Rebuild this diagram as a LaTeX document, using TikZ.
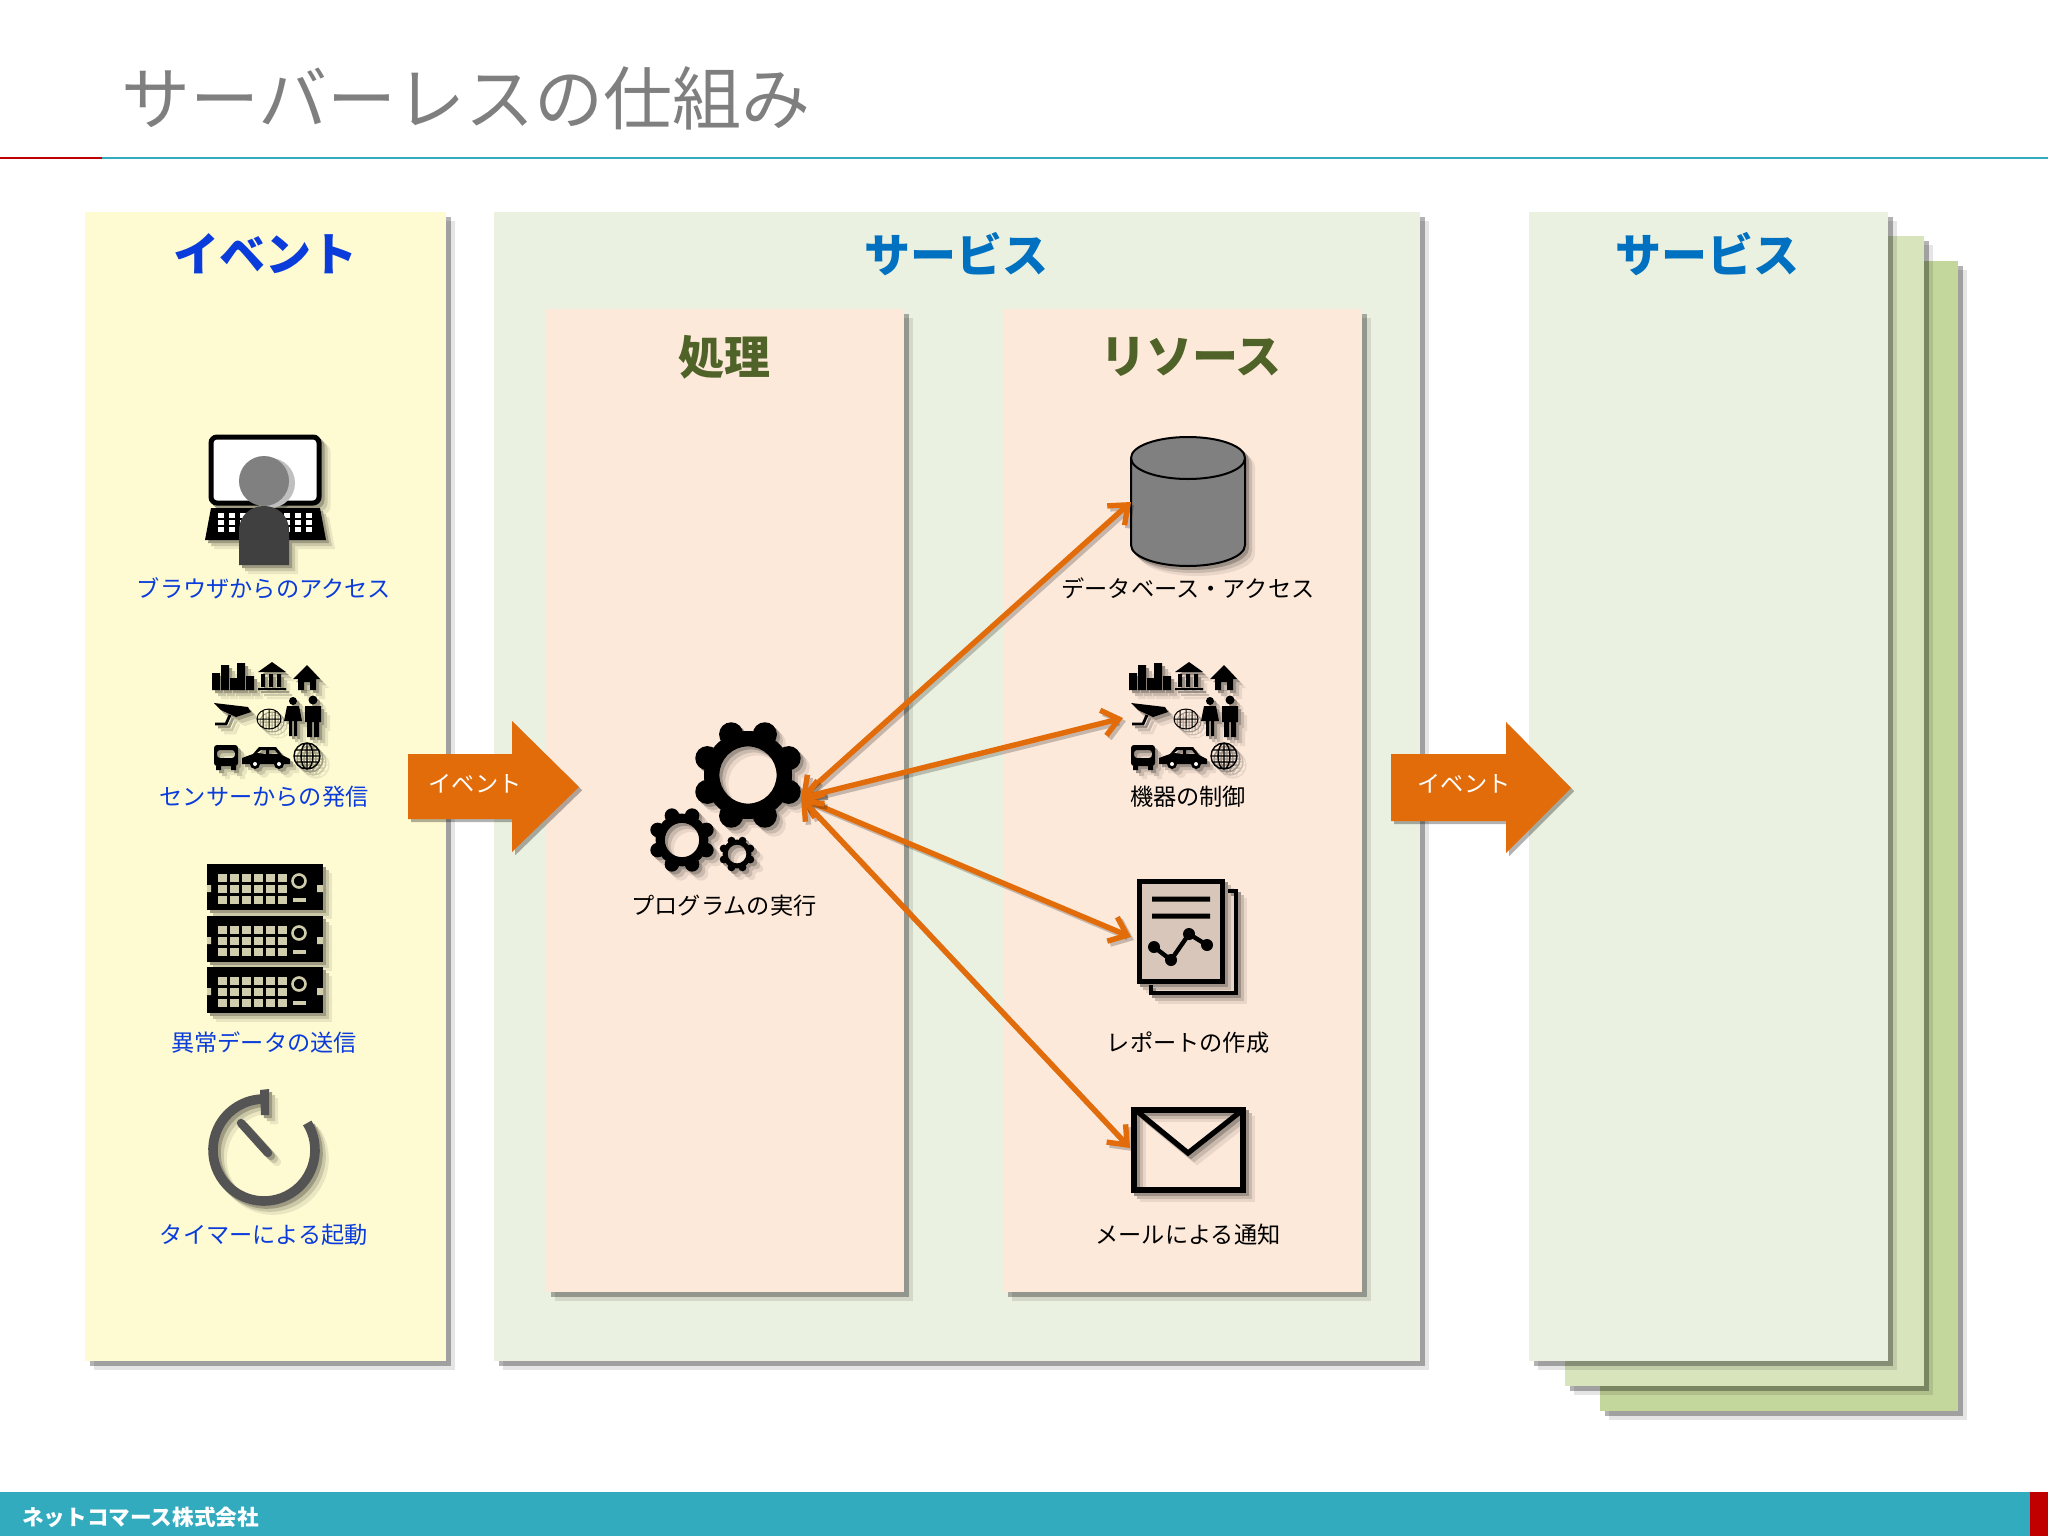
\documentclass[tikz,border=0pt]{standalone}
\usepackage{fontspec}
\setmainfont{Noto Sans CJK JP}
\usetikzlibrary{arrows.meta,shadows}

\definecolor{rulered}{HTML}{C00000}
\definecolor{ruleteal}{HTML}{33ABBF}
\definecolor{titlegrey}{HTML}{7F7F7F}
\definecolor{eventbg}{HTML}{FEFAD2}
\definecolor{svcbg}{HTML}{EBF1E0}
\definecolor{svcbgb}{HTML}{D7E4BC}
\definecolor{svcbgc}{HTML}{C3D69B}
\definecolor{peachbg}{HTML}{FDE9DA}
\definecolor{eventblue}{HTML}{0A3CDC}
\definecolor{svcblue}{HTML}{0070C0}
\definecolor{olivehead}{HTML}{4F6228}
\definecolor{linko}{HTML}{E36C0A}

% icon inks, set again for each shadow layer
\colorlet{inkline}{black}
\colorlet{inkwhite}{white}
\colorlet{inktan}{black}
\colorlet{inkmid}{black}
\colorlet{inkdark}{black}
\colorlet{inkclock}{black}

\newcommand{\allinks}[1]{\colorlet{inkline}{#1}\colorlet{inkwhite}{#1}\colorlet{inktan}{#1}\colorlet{inkmid}{#1}\colorlet{inkdark}{#1}\colorlet{inkclock}{#1}}

% #1 pic, #2 place, #3 backdrop colour, #4 colour of the pale parts
\newcommand{\showicon}[4]{%
  \begin{scope}[shift={(#2)}]
    \allinks{#3!92!black}\pic at (9,9) {#1};
    \allinks{#3!80!black}\pic at (6,6) {#1};
    \allinks{#3!62!black}\pic at (3,3) {#1};
    \colorlet{inkline}{black}\colorlet{inkwhite}{white}\colorlet{inktan}{#4}%
    \colorlet{inkmid}{black!50}\colorlet{inkdark}{black!75}\colorlet{inkclock}{black!67}%
    \pic at (0,0) {#1};
  \end{scope}}

\tikzset{
  panel/.style={fill=#1,general shadow={fill=black,opacity=.1,shadow xshift=4.5pt,shadow yshift=-4.5pt},
    general shadow={fill=black,opacity=.3,shadow xshift=2.5pt,shadow yshift=-2.5pt}},
  head/.style={inner sep=0pt,font=\fontsize{23}{27}\selectfont\bfseries},
  label/.style={inner sep=0pt,font=\fontsize{11.6}{14}\selectfont},
  link/.style={line width=2.7pt,linko,{Straight Barb[length=8pt,width=13pt,line width=2.7pt]}-{Straight Barb[length=8pt,width=13pt,line width=2.7pt]}},
  linkshade/.style={link,black,opacity=.22,transform canvas={xshift=1.5pt,yshift=-1.5pt}},
  bigarrow/.style={fill=linko,general shadow={fill=black,opacity=.3,shadow xshift=1.6pt,shadow yshift=-1.6pt}},
  pics/laptop/.style={code={
    \draw[inkline,fill=inkwhite,line width=2.5pt,rounded corners=3pt] (-53,-63) rectangle (55,3);
    \fill[inkline] (-53,8) -- (56,8) -- (62,40) -- (-59,40) -- cycle;
    \foreach \ky in {13,20,27}{\foreach \kx in {0,...,8}{
      \fill[inkwhite] ({-46+11*\kx},\ky) rectangle ++(6,4.5);}}
    \fill[inkwhite!75!black] (6,-17) circle (25);
    \fill[inkmid] (0,-19) circle (25);
    \fill[inkdark] (-25,65) -- (-25,31) .. controls (-25,14) and (-12,6) .. (0,6)
      .. controls (12,6) and (25,14) .. (25,31) -- (25,65) -- cycle;
  }},
  pics/devices/.style={code={
    % buildings, bank, house
    \fill[inkline] (-54,-26) rectangle (-46,-43) (-45,-26) rectangle (-37,-51) (-36,-26) rectangle (-28,-38)
      (-29,-26) rectangle (-21,-53) (-20,-26) rectangle (-12,-40);
    \fill[inkline] (-8,-44) -- (6,-54) -- (20,-44) -- cycle (-8,-28) rectangle (20,-26)
      (-5,-42) rectangle (-1,-29) (3,-42) rectangle (7,-29) (11,-42) rectangle (15,-29);
    \fill[inkline] (27,-37) -- (41,-51) -- (54,-37) -- cycle;
    \fill[inkline,even odd rule] (32,-40) rectangle (50,-26) (38,-34) rectangle (44,-26);
    % camera, mesh, people
    \fill[inkline] (-52,-13) -- (-18,-9) -- (-15,-4) -- (-30,1) -- (-45,-6) -- cycle;
    \draw[inkline,line width=1.4pt] (-36,-1) -- (-40,8) -- (-51,8);
    \draw[inkline,line width=.5pt] (3,3) ellipse [x radius=12,y radius=10]
      (-3,-6) -- (-3,12) (3,-7) -- (3,13) (9,-6) -- (9,12) (-9,3) -- (15,3);
    \fill[inkline] (27,-15) circle (4) (21,-10) -- (33,-10) -- (36,5) -- (18,5) -- cycle
      (23,5) rectangle (26,20) (28,5) rectangle (31,20);
    \fill[inkline] (47,-16) circle (4.5) (39,-10) rectangle (55,6) (41,6) rectangle (46,21) (48,6) rectangle (53,21);
    % bus, car, globe
    \fill[inkline,even odd rule,rounded corners=1.5pt] (-52,29) rectangle (-28,50) (-49,34) rectangle (-31,42);
    \fill[inkline] (-50,50) rectangle (-45,54) (-35,50) rectangle (-30,54);
    \fill[inkline,even odd rule] (-24,48) -- (-24,42) -- (-13,38) -- (-7,31) -- (10,31) -- (16,39) -- (24,43) -- (24,48) -- cycle
      (-9,37) -- (-5,34) -- (0,34) -- (0,38) -- cycle (3,34) -- (9,34) -- (12,38) -- (3,38) -- cycle;
    \fill[inkline] (-11,48) circle (5) (13,48) circle (5);
    \fill[inkwhite] (-11,48) circle (2) (13,48) circle (2);
    \draw[inkline,line width=.7pt] (41,40) circle (13) (41,40) ellipse [x radius=6,y radius=13]
      (28,40) -- (54,40) (30,34) -- (52,34) (30,46) -- (52,46) (41,27) -- (41,53);
  }},
  pics/rackunit/.style={code={
    \fill[inkline] (0,0) rectangle (116,46);
    \foreach \ry in {10,21,32}{\foreach \rx in {0,...,5}{
      \fill[inktan] ({11+12*\rx},\ry) rectangle ++(8.5,7.5);}}
    \draw[inktan,line width=1.3pt] (92,17) circle (6.5);
    \fill[inktan] (86,34) rectangle (99,38);
    \fill[inktan] (0,21) rectangle (4,28) (110,21) rectangle (116,28);
  }},
  pics/rack/.style={code={
    \pic at (-58,-74) {rackunit};
    \pic at (-58,-22) {rackunit};
    \pic at (-58,29) {rackunit};
  }},
  pics/timer/.style={code={
    \draw[inkclock,line width=4.8pt] (-32:51) arc[start angle=-32,end angle=270,radius=51];
    \fill[inkclock] (-4,-60) -- (5,-61) -- (5,-35) -- (-3,-35) -- cycle;
    \draw[inkclock,line width=4.2pt,line cap=round] (-23,-27) -- (4,3);
  }},
  pics/cog/.style={code={
    \foreach \ca in {22.5,67.5,...,360}{\fill[inkline] (\ca:0.8*#1) circle (0.22*#1);}
    \fill[inkline,even odd rule] (0,0) circle (0.8*#1) (0,0) circle (0.52*#1);
  }},
  pics/gears/.style={code={
    \pic at (38,-35) {cog=55};
    \pic at (-28,30) {cog=33};
    \pic at (27,44) {cog=18};
  }},
  pics/cylinder/.style={code={
    \filldraw[draw=inkline,fill=inkmid,line width=1pt] (-57,-52) -- (-57,35)
      .. controls (-57,47) and (-31,56) .. (0,56) .. controls (31,56) and (57,47) .. (57,35) -- (57,-52)
      .. controls (57,-64) and (31,-73) .. (0,-73) .. controls (-31,-73) and (-57,-64) .. (-57,-52) -- cycle;
    \draw[inkline,line width=1pt] (-57,-52) .. controls (-57,-40) and (-31,-31) .. (0,-31) .. controls (31,-31) and (57,-40) .. (57,-52);
  }},
  pics/report/.style={code={
    \draw[inkline,line width=2pt] (42,-44) -- (50,-44) -- (50,58) -- (-35,58) -- (-35,50);
    \draw[inkline,fill=inktan,line width=2.5pt] (-47,-54) rectangle (36,46);
    \fill[inkline] (-34,-38.5) rectangle (24,-33.5) (-34,-21.5) rectangle (24,-16.5);
    \draw[inkline,line width=2.2pt] (-32,12) -- (-15,25) -- (3,-1) -- (21,10);
    \fill[inkline] (-32,12) circle (6) (-15,25) circle (6) (3,-1) circle (6) (21,10) circle (6);
  }},
  pics/envelope/.style={code={
    \draw[inkline,line width=3.4pt] (-54,-40) rectangle (55,40);
    \draw[inkline,line width=2.6pt] (-50,-38) -- (0,3) -- (52,-38);
  }}
}

\begin{document}
\begin{tikzpicture}[x=.5pt,y=-.5pt]
\useasboundingbox (0,0) rectangle (2048,1536);

% title and rule
\node[inner sep=0pt,anchor=west,titlegrey,font=\fontsize{34.5}{40}\selectfont] (title) at (121,98) {サーバーレスの仕組み};
\fill[ruleteal] (0,157) rectangle (2048,159);
\fill[rulered] (0,157) rectangle (102,159);

% panels
\fill[panel=eventbg] (85,212) rectangle (446,1361);
\fill[panel=svcbg] (494,212) rectangle (1420,1361);
\fill[panel=peachbg] (546,309) rectangle (904,1292);
\fill[panel=peachbg] (1003,309) rectangle (1362,1292);
\fill[panel=svcbgc] (1600,261) rectangle (1958,1411);
\fill[panel=svcbgb] (1565,236) rectangle (1924,1386);
\fill[panel=svcbg] (1529,212) rectangle (1888,1361);

% headings
\node[head,eventblue] (hevent) at (265,254) {イベント};
\node[head,svcblue] (hsvc) at (956,254) {サービス};
\node[head,svcblue] (hsvcb) at (1707,254) {サービス};
\node[head,olivehead] (hproc) at (724,357) {処理};
\node[head,olivehead] (hres) at (1191,357) {リソース};

% event column
\showicon{laptop}{264,500}{eventbg}{white}
\showicon{devices}{266,716}{eventbg}{white}
\showicon{rack}{265,938}{eventbg}{eventbg!82!black}
\showicon{timer}{264,1150}{eventbg}{white}
\node[label,eventblue] (lbrowser) at (264,588) {ブラウザからのアクセス};
\node[label,eventblue] (lsensor) at (264,797) {センサーからの発信};
\node[label,eventblue] (lerror) at (264,1043) {異常データの送信};
\node[label,eventblue] (ltimer) at (264,1235) {タイマーによる起動};

% processing
\showicon{gears}{710,810}{peachbg}{white}
\node[label] (lprog) at (724,906) {プログラムの実行};

% resources
\showicon{cylinder}{1188,510}{peachbg}{white}
\showicon{devices}{1183,716}{peachbg}{white}
\showicon{report}{1186,935}{peachbg}{peachbg!85!black}
\showicon{envelope}{1188,1150}{peachbg}{white}
\node[label] (ldb) at (1188,588) {データベース・アクセス};
\node[label] (ldev) at (1188,797) {機器の制御};
\node[label] (lrep) at (1188,1043) {レポートの作成};
\node[label] (lmail) at (1188,1235) {メールによる通知};

% connectors
\coordinate (hub) at (801,798);
\coordinate (todb) at (1131,502);
\coordinate (todev) at (1123,718);
\coordinate (torep) at (1131,937);
\coordinate (tomail) at (1130,1148);
\foreach \t in {todb,todev,torep,tomail}{
  \draw[linkshade] (hub) -- (\t);
  \draw[link] (hub) -- (\t);
}

% event arrows
\fill[bigarrow] (408,754) -- (512,754) -- (512,721) -- (579,787) -- (512,852) -- (512,819) -- (408,819) -- cycle;
\node[label,white] (lin) at (475,784) {イベント};
\fill[bigarrow] (1391,754) -- (1506,754) -- (1506,722) -- (1571,788) -- (1506,853) -- (1506,821) -- (1391,821) -- cycle;
\node[label,white] (lout) at (1464,784) {イベント};

% footer
\fill[ruleteal] (0,1492) rectangle (2048,1536);
\fill[rulered] (2030,1492) rectangle (2048,1536);
\node[inner sep=0pt,anchor=west,white,font=\fontsize{10.8}{13}\selectfont\bfseries] (company) at (22,1517) {ネットコマース株式会社};
\end{tikzpicture}
\end{document}
